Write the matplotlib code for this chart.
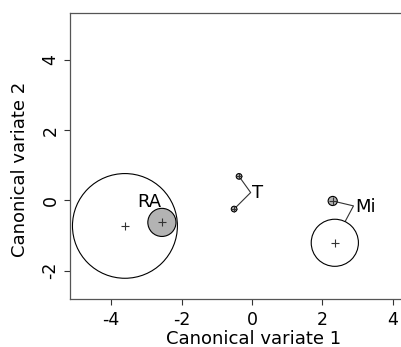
import matplotlib
matplotlib.use("Agg")
import matplotlib.pyplot as plt
from matplotlib.patches import Circle

plt.rcParams['font.family'] = ['DejaVu Sans']

# Group means (canonical variate 1, 2) and confidence circle radii
group_x = [-3.61, -2.56, -0.37, -0.51, 2.29, 2.35]
group_y = [-0.73, -0.63, 0.68, -0.25, -0.02, -1.21]
group_r = [1.49, 0.40, 0.08, 0.08, 0.13, 0.67]
group_fill = ['white', '#b3b3b3', '#b3b3b3', '#b3b3b3', '#b3b3b3', 'white']

# Labels
labels = ['RA', 'T', 'Mi']
label_x = [-2.93, 0.0, 2.93]
label_y = [-0.06, 0.21, -0.18]
label_ha = ['center', 'left', 'left']

# Leader lines (x list, y list)
leader_T_x = [-0.37, -0.04, -0.51]
leader_T_y = [0.68, 0.22, -0.25]
leader_Mi_x = [2.29, 2.88, 2.64]
leader_Mi_y = [-0.02, -0.16, -0.61]

xticks = [-4, -2, 0, 2, 4]
yticks = [-2, 0, 2, 4]

FS_LAB = 13
FS_TICK = 12.5
W, H = 401, 347
AX_L, AX_B, AX_W, AX_H = 70, 48, 368, 286

fig = plt.figure(figsize=(4.01, 3.47), dpi=100)
ax = fig.add_axes([AX_L/W, AX_B/H, AX_W/W, AX_H/H])
ax.set_xlim(-5.17, 5.28)
ax.set_ylim(-2.81, 5.33)

for x, y, r, fc in zip(group_x, group_y, group_r, group_fill):
    ax.add_patch(Circle((x, y), r, facecolor=fc, edgecolor='black', lw=0.8, zorder=2))
    ax.plot(x, y, marker='+', color='#333333', ms=6 if r > 0.1 else 5, mew=0.8, zorder=3)

ax.plot(leader_T_x, leader_T_y, color='#333333', lw=0.8, zorder=1)
ax.plot(leader_Mi_x, leader_Mi_y, color='#333333', lw=0.8, zorder=1)

for t, x, y, ha in zip(labels, label_x, label_y, label_ha):
    ax.text(x, y, t, ha=ha, va='center', fontsize=FS_LAB, zorder=4)

ax.set_xticks(xticks)
ax.set_yticks(yticks)
ax.set_xticklabels([str(v) for v in xticks], fontsize=FS_TICK)
ax.set_yticklabels([str(v) for v in yticks], fontsize=FS_TICK, rotation=90, va='center')
ax.tick_params(direction='out', length=4, width=0.8, color='#333333')
ax.tick_params(axis='x', pad=4.5)
ax.tick_params(axis='y', pad=3.5)
ax.set_xlabel('Canonical variate 1', fontsize=FS_LAB)
ax.set_ylabel('Canonical variate 2', fontsize=FS_LAB)
ax.xaxis.set_label_coords((254 - AX_L) / AX_W, (H - 330.3 - AX_B) / AX_H)
ax.yaxis.set_label_coords((29.2 - AX_L) / AX_W, (H - 169 - AX_B) / AX_H)
for s in ['left', 'bottom', 'top']:
    ax.spines[s].set_color('#555555')
    ax.spines[s].set_linewidth(0.9)
ax.spines['right'].set_visible(False)

fig.savefig('out.png', dpi=100)
